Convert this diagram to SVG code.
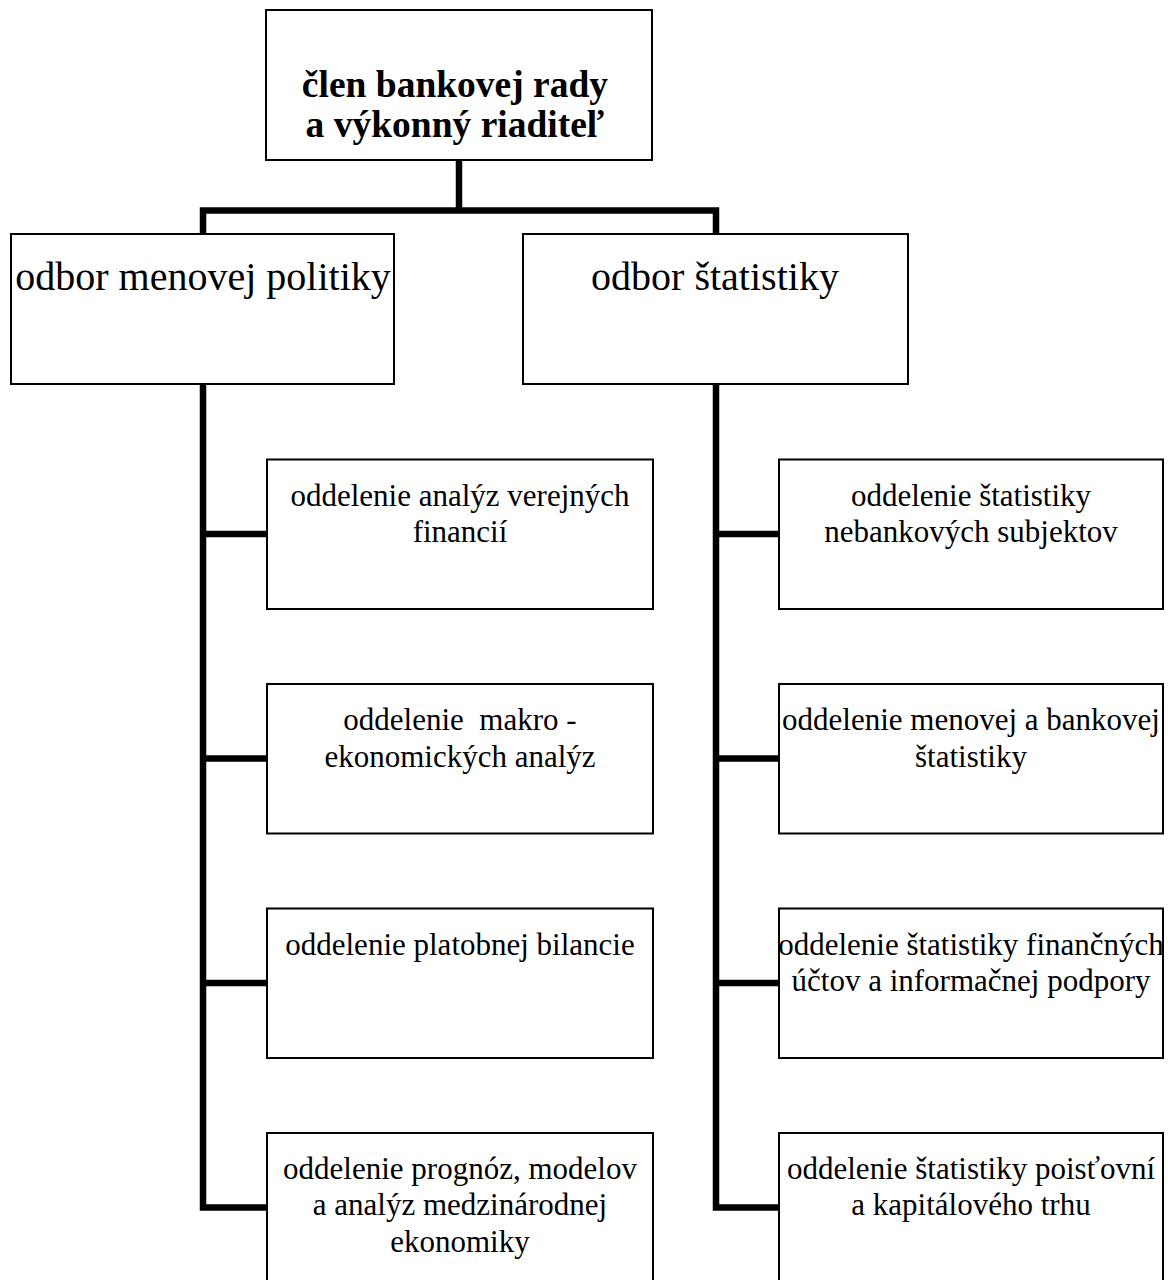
<svg xmlns="http://www.w3.org/2000/svg" width="1168" height="1280" viewBox="0 0 1168 1280">
<style>
.box{fill:#fff;stroke:#000;stroke-width:2}
.t{font-family:"Liberation Serif","Times New Roman",serif;fill:#000;text-anchor:middle}
.t1{font-size:37.5px;font-weight:bold}
.t2{font-size:40px}
.t3{font-size:31px}
.c{fill:none;stroke:#000;stroke-width:6.5;stroke-linejoin:miter;stroke-linecap:butt}
</style>
<rect width="1168" height="1280" fill="#fff"/>
<g id="connectors">
<path class="c" d="M459,160 V210.5"/>
<polyline class="c" points="203,234 203,210.5 716,210.5 716,234"/>
<polyline class="c" points="203,384 203,1207.5 267,1207.5"/>
<path class="c" d="M203,534 H267 M203,758.5 H267 M203,983 H267"/>
<polyline class="c" points="716,384 716,1207.5 779,1207.5"/>
<path class="c" d="M716,534 H779 M716,758.5 H779 M716,983 H779"/>
</g>
<g id="n-top">
<rect class="box" x="266" y="10" width="386" height="150"/>
<text class="t t1" x="455" y="97">člen bankovej rady</text>
<text class="t t1" x="455" y="137">a výkonný riaditeľ</text>
</g>
<g id="n-menova">
<rect class="box" x="11" y="234" width="383" height="150"/>
<text class="t t2" x="203" y="290">odbor menovej politiky</text>
</g>
<g id="n-statistika">
<rect class="box" x="523" y="234" width="385" height="150"/>
<text class="t t2" x="715" y="290">odbor štatistiky</text>
</g>
<g id="n-l1">
<rect class="box" x="267" y="459.5" width="386" height="149.5"/>
<text class="t t3" x="460" y="505.5">oddelenie analýz verejných</text>
<text class="t t3" x="460" y="542">financií</text>
</g>
<g id="n-l2">
<rect class="box" x="267" y="684" width="386" height="149.5"/>
<text class="t t3" x="460" y="730">oddelenie&#160; makro -</text>
<text class="t t3" x="460" y="766.5">ekonomických analýz</text>
</g>
<g id="n-l3">
<rect class="box" x="267" y="908.5" width="386" height="149.5"/>
<text class="t t3" x="460" y="954.5">oddelenie platobnej bilancie</text>
</g>
<g id="n-l4">
<rect class="box" x="267" y="1133" width="386" height="150"/>
<text class="t t3" x="460" y="1178.5">oddelenie prognóz, modelov</text>
<text class="t t3" x="460" y="1215">a analýz medzinárodnej</text>
<text class="t t3" x="460" y="1251.5">ekonomiky</text>
</g>
<g id="n-r1">
<rect class="box" x="779" y="459.5" width="384" height="149.5"/>
<text class="t t3" x="971" y="505.5">oddelenie štatistiky</text>
<text class="t t3" x="971" y="542">nebankových subjektov</text>
</g>
<g id="n-r2">
<rect class="box" x="779" y="684" width="384" height="149.5"/>
<text class="t t3" x="971" y="730">oddelenie menovej a bankovej</text>
<text class="t t3" x="971" y="766.5">štatistiky</text>
</g>
<g id="n-r3">
<rect class="box" x="779" y="908.5" width="384" height="149.5"/>
<text class="t t3" x="971" y="954.5">oddelenie štatistiky finančných</text>
<text class="t t3" x="971" y="991">účtov a informačnej podpory</text>
</g>
<g id="n-r4">
<rect class="box" x="779" y="1133" width="384" height="150"/>
<text class="t t3" x="971" y="1178.5">oddelenie štatistiky poisťovní</text>
<text class="t t3" x="971" y="1215">a kapitálového trhu</text>
</g>
</svg>
